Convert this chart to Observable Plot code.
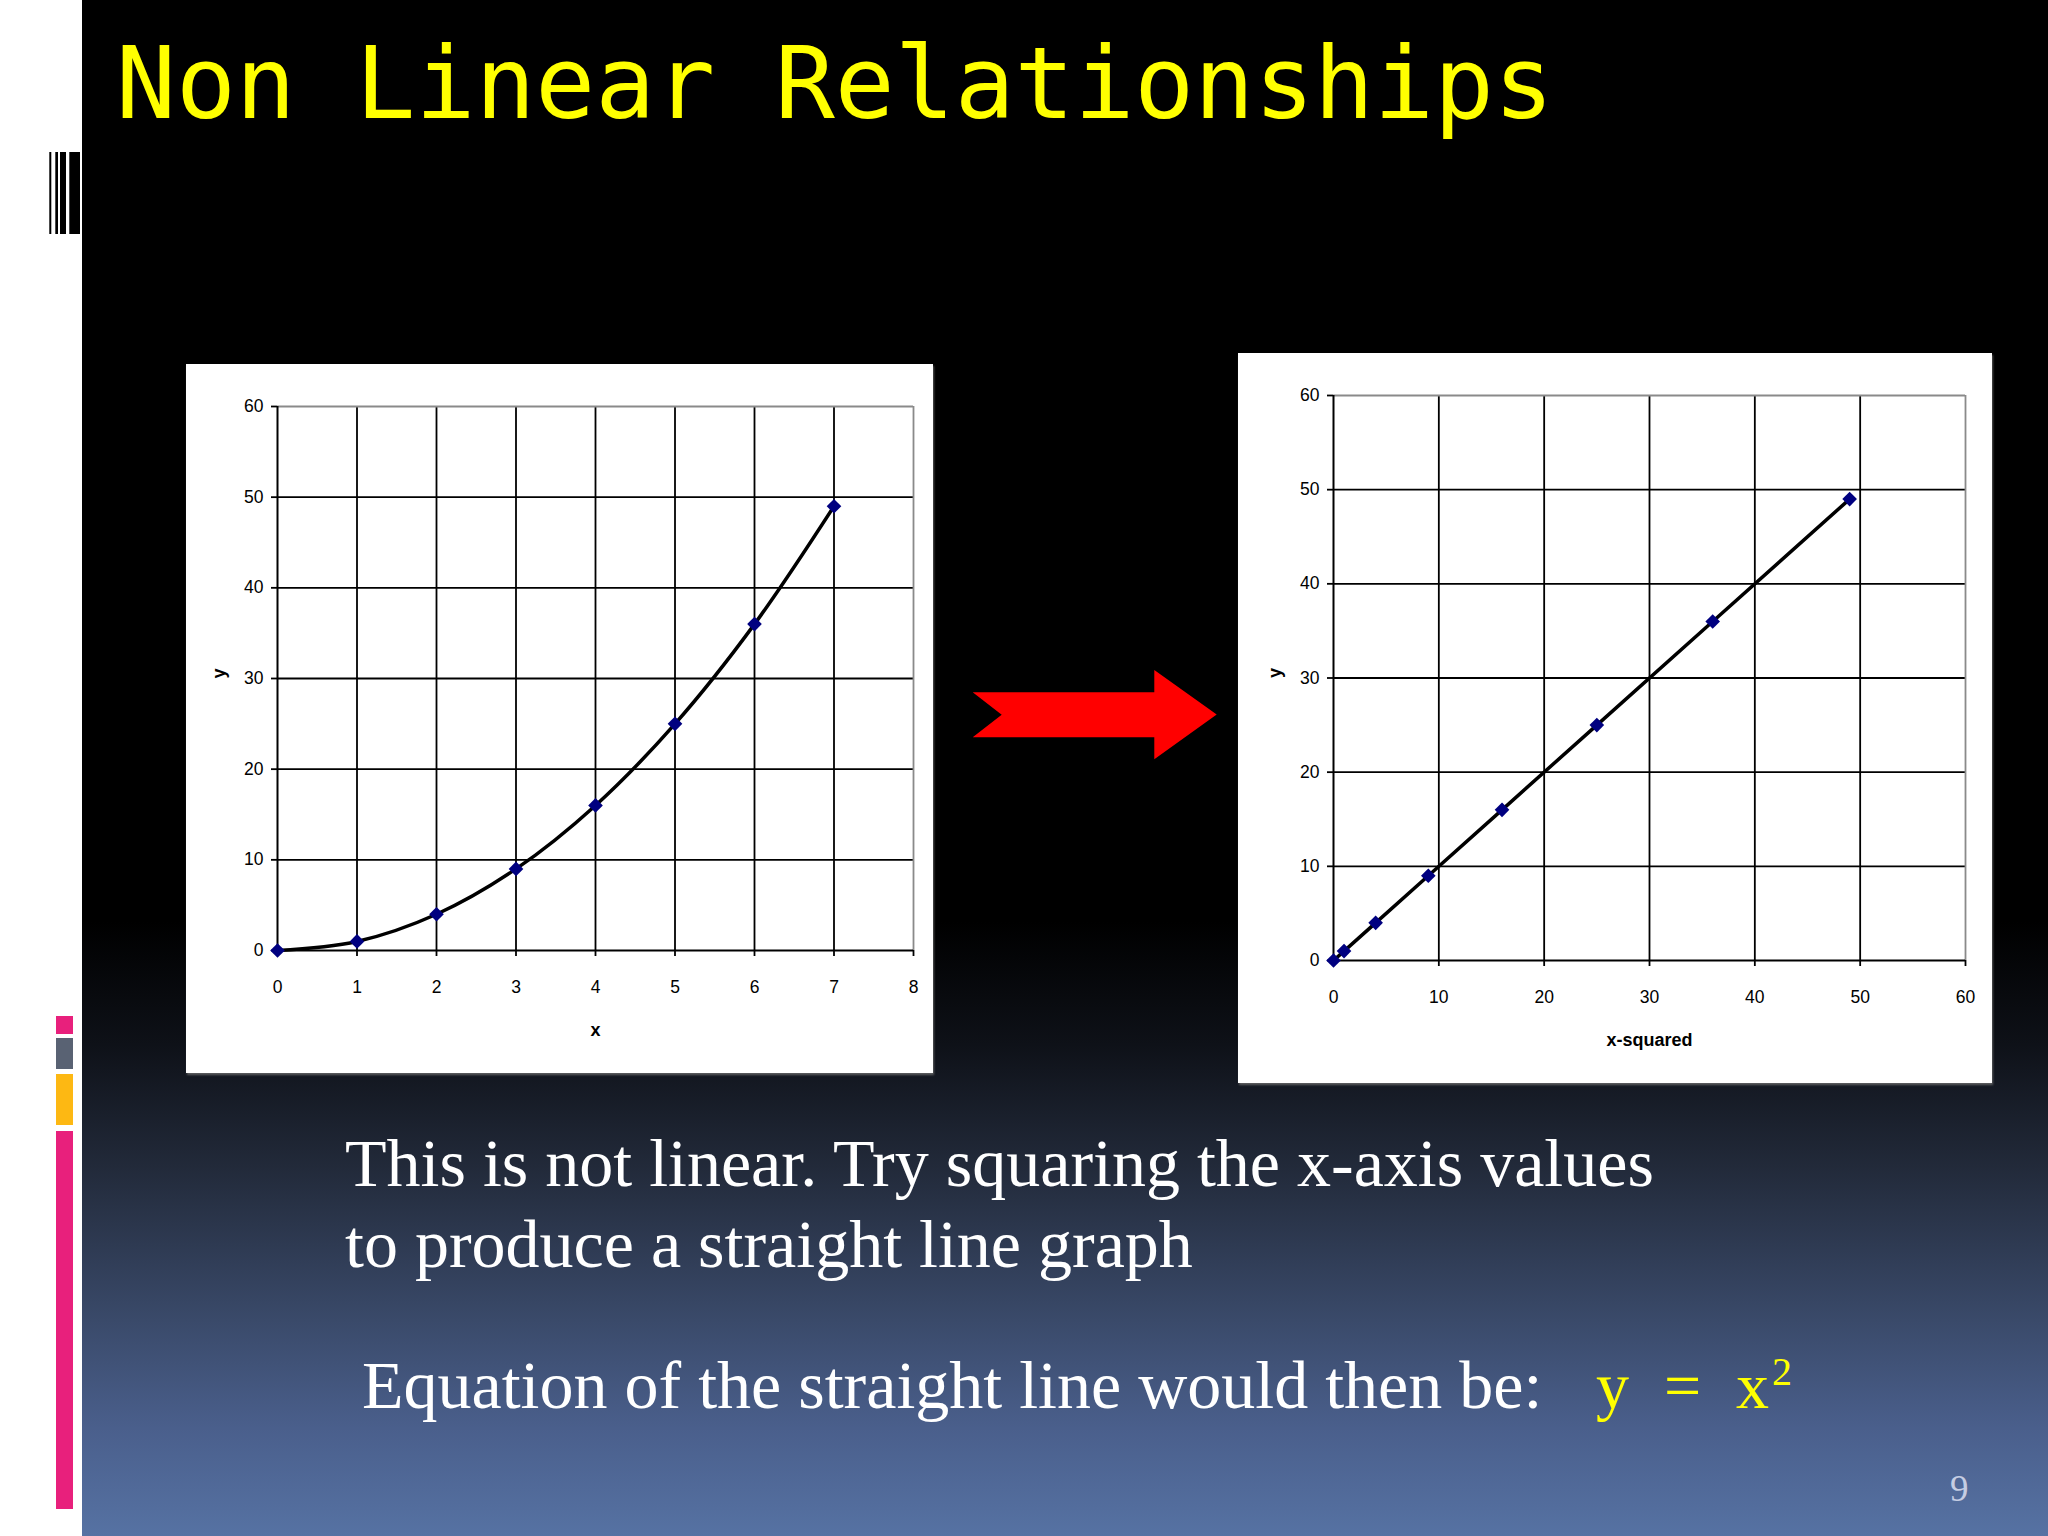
<!DOCTYPE html>
<html>
<head>
<meta charset="utf-8">
<script src="https://cdn.jsdelivr.net/npm/d3@7"></script>
<script src="https://cdn.jsdelivr.net/npm/@observablehq/plot@0.6"></script>
<style>
  html, body { margin: 0; padding: 0; }
  body { width: 2048px; height: 1536px; position: relative; overflow: hidden; background: #ffffff; }
  #slide { position: absolute; left: 82px; top: 0; width: 1966px; height: 1536px;
    background: linear-gradient(to bottom, #000000 0%, #000000 60%, #0e1118 68%, #222a3a 76%, #3a4a6a 86%, #4a5f8c 93%, #5672a3 100%); }
  #deco { position: absolute; left: 0; top: 0; }
  .chart { position: absolute; background: #ffffff; box-shadow: 1px 2px 2px rgba(110,110,110,0.8); }
  #left { left: 186px; top: 364px; }
  #right { left: 1238px; top: 353px; }
</style>
</head>
<body>
<div id="slide"></div>
<svg id="deco" width="2048" height="1536">
  <!-- barcode decoration -->
  <rect x="49.3" y="152" width="2" height="82" fill="#000"/>
  <rect x="55.3" y="152" width="2.7" height="82" fill="#000"/>
  <rect x="60" y="152" width="6" height="82" fill="#000"/>
  <rect x="69.3" y="152" width="10.7" height="82" fill="#000"/>
  <!-- coloured bars -->
  <rect x="56" y="1016" width="17" height="18" fill="#e8207c"/>
  <rect x="56" y="1038" width="17" height="31" fill="#596273"/>
  <rect x="56" y="1074" width="17" height="51" fill="#fdb813"/>
  <rect x="56" y="1131" width="17" height="378" fill="#e8207c"/>
  <!-- title -->
  <text x="116" y="118" font-family="DejaVu Sans Mono" font-size="99.5" fill="#ffff00">Non Linear Relationships</text>
  <!-- arrow -->
  <polygon points="972.7,692.3 1154.3,692.3 1154.3,670 1216.7,714.5 1154.3,759.3 1154.3,737.3 972.7,737.3 1001.7,714.8" fill="#ff0000"/>
  <!-- body text -->
  <text x="345" y="1186" font-family="Liberation Serif" font-size="68" fill="#ffffff">This is not linear. Try squaring the x-axis values</text>
  <text x="345" y="1267" font-family="Liberation Serif" font-size="68" fill="#ffffff">to produce a straight line graph</text>
  <text x="362" y="1408" font-family="Liberation Serif" font-size="68" fill="#ffffff">Equation of the straight line would then be:</text>
  <text x="1596" y="1408" font-family="Liberation Serif" font-size="66" fill="#ffff00">y</text>
  <text x="1664" y="1408" font-family="Liberation Serif" font-size="66" fill="#ffff00">=</text>
  <text x="1736" y="1408" font-family="Liberation Serif" font-size="66" fill="#ffff00">x</text>
  <text x="1772" y="1385" font-family="Liberation Serif" font-size="40" fill="#ffff00">2</text>
  <text x="1950" y="1501" font-family="Liberation Serif" font-size="37" fill="#c5cde3">9</text>
</svg>
<div id="left" class="chart"></div>
<div id="right" class="chart"></div>
<script>
// ---- data ----
const xValues = [0, 1, 2, 3, 4, 5, 6, 7];
const yValues = [0, 1, 4, 9, 16, 25, 36, 49];
const xSquaredValues = [0, 1, 4, 9, 16, 25, 36, 49];
const leftXTicks = [0, 1, 2, 3, 4, 5, 6, 7, 8];
const rightXTicks = [0, 10, 20, 30, 40, 50, 60];
const yTicks = [0, 10, 20, 30, 40, 50, 60];
const leftXLabel = "x";
const rightXLabel = "x-squared";
const yLabel = "y";

const leftData = xValues.map((x, i) => ({x, y: yValues[i]}));
const rightData = xSquaredValues.map((x, i) => ({x, y: yValues[i]}));

function chart({data, xTicks, xLabel, width, height, margins, curve}) {
  const xMax = xTicks[xTicks.length - 1];
  const yMax = yTicks[yTicks.length - 1];
  return Plot.plot({
    width, height,
    marginLeft: margins[0], marginRight: margins[1], marginTop: margins[2], marginBottom: margins[3],
    x: {domain: [xTicks[0], xMax]},
    y: {domain: [yTicks[0], yMax]},
    style: {background: "white", fontFamily: "Liberation Sans, Arial, sans-serif", fontSize: "17.5px", color: "black", overflow: "visible"},
    marks: [
      Plot.gridX(xTicks.filter(t => t !== xTicks[0] && t !== xMax), {stroke: "black", strokeOpacity: 1, strokeWidth: 1.8}),
      Plot.gridY(yTicks.filter(t => t !== yTicks[0] && t !== yMax), {stroke: "black", strokeOpacity: 1, strokeWidth: 1.8}),
      Plot.ruleY([yMax], {stroke: "#8a8a8a", strokeWidth: 1.8}),
      Plot.ruleX([xMax], {stroke: "#8a8a8a", strokeWidth: 1.8}),
      Plot.ruleX([xTicks[0]], {stroke: "black", strokeWidth: 2}),
      Plot.ruleY([yTicks[0]], {stroke: "black", strokeWidth: 2}),
      Plot.axisX(xTicks, {tickSize: 6, tickPadding: 24, label: null, stroke: "black", strokeWidth: 1.8}),
      Plot.axisY(yTicks, {tickSize: 6, tickPadding: 8, label: null, stroke: "black", strokeWidth: 1.8}),
      Plot.line(data, {x: "x", y: "y", curve, stroke: "black", strokeWidth: 3.5}),
      Plot.dot(data, {x: "x", y: "y", symbol: "diamond2", r: 6.6, fill: "#000080", stroke: "none"}),
      Plot.text([yLabel], {text: d => d, frameAnchor: "left", dx: -58, rotate: -90, fontWeight: "bold", fontSize: 18}),
      Plot.text([xLabel], {text: d => d, frameAnchor: "bottom", dy: 85, fontWeight: "bold", fontSize: 18, letterSpacing: "0.5px"})
    ]
  });
}

document.getElementById("left").append(chart({
  data: leftData, xTicks: leftXTicks, xLabel: leftXLabel,
  width: 747, height: 709, margins: [91, 20, 42, 123], curve: "catmull-rom"
}));
document.getElementById("right").append(chart({
  data: rightData, xTicks: rightXTicks, xLabel: rightXLabel,
  width: 754, height: 730, margins: [95, 27, 42, 123], curve: "linear"
}));
</script>
</body>
</html>
